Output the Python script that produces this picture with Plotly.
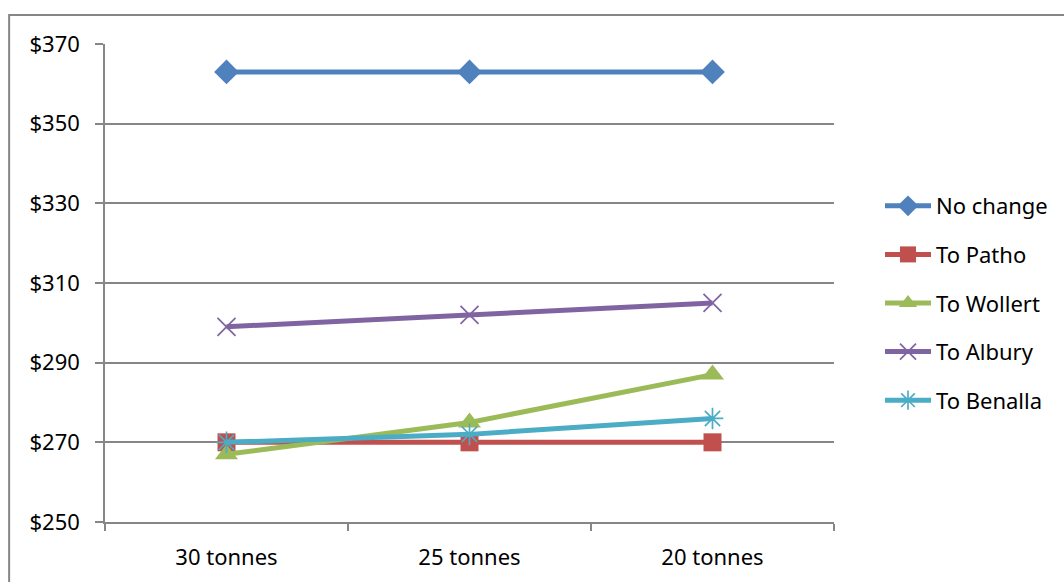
import plotly.graph_objects as go

categories = ["30 tonnes", "25 tonnes", "20 tonnes"]
no_change = [363, 363, 363]
to_patho = [270, 270, 270]
to_wollert = [267, 275, 287]
to_albury = [299, 302, 305]
to_benalla = [270, 272, 276]
y_ticks = [250, 270, 290, 310, 330, 350, 370]
y_tick_labels = ["$250", "$270", "$290", "$310", "$330", "$350", "$370"]

series = [
    ("No change", no_change, "#4F81BD", "diamond", 19, 0),
    ("To Patho", to_patho, "#C0504D", "square", 18, 0),
    ("To Wollert", to_wollert, "#9BBB59", "triangle-up", 20, 0),
    ("To Albury", to_albury, "#8064A2", "x-thin-open", 18, 1.7),
    ("To Benalla", to_benalla, "#4BACC6", "asterisk-open", 18, 1.7),
]

FONT = "Noto Sans"
FS = 22
fig = go.Figure()
for name, vals, color, sym, size, mlw in series:
    marker = dict(symbol=sym, size=size, color=color)
    if mlw:
        marker["line"] = dict(color=color, width=mlw)
    else:
        marker["line"] = dict(width=0)
    fig.add_trace(go.Scatter(
        x=categories, y=vals, name=name, mode="lines+markers",
        line=dict(color=color, width=5), marker=marker, legendgroup=name,
    ))

W, H = 1064, 582
L, R, T, B = 105, 835, 44, 522
fig.update_layout(
    width=W, height=H,
    margin=dict(l=L, r=W - R, t=T, b=H - B, pad=0),
    paper_bgcolor="white", plot_bgcolor="white",
    font=dict(family=FONT, size=FS, color="black"),
    showlegend=True,
    legend=dict(x=(880 - L) / (R - L), y=(B - 303) / (B - T), xanchor="left", yanchor="middle",
                font=dict(family=FONT, size=FS, color="black"),
                tracegroupgap=17, itemwidth=46, bgcolor="rgba(0,0,0,0)"),
    xaxis=dict(type="category", range=[-0.5, 2.5], showgrid=False,
               showline=True, linecolor="#868686", linewidth=1.5,
               ticks="outside", tickson="boundaries", ticklen=7, tickcolor="#868686",
               tickwidth=1.5, tickfont=dict(family=FONT, size=FS, color="black"),
               ticklabelstandoff=15),
    yaxis=dict(range=[250, 370], tickvals=y_ticks, ticktext=y_tick_labels,
               showgrid=True, gridcolor="#868686", gridwidth=1.5,
               showline=True, linecolor="#868686", linewidth=1.5,
               ticks="outside", ticklen=8, tickcolor="#868686", tickwidth=1.5,
               tickfont=dict(family=FONT, size=FS, color="black"),
               ticklabelstandoff=11, zeroline=False),
    shapes=[dict(type="rect", xref="paper", yref="paper",
                 x0=(9 - L) / (R - L), x1=(1075 - L) / (R - L),
                 y0=(B - 595) / (B - T), y1=(B - 15) / (B - T),
                 line=dict(color="#868686", width=2), fillcolor="rgba(0,0,0,0)",
                 layer="below")],
)
fig.write_html("out.html", config={"displayModeBar": False},
               post_script="document.body.style.margin='0';")
